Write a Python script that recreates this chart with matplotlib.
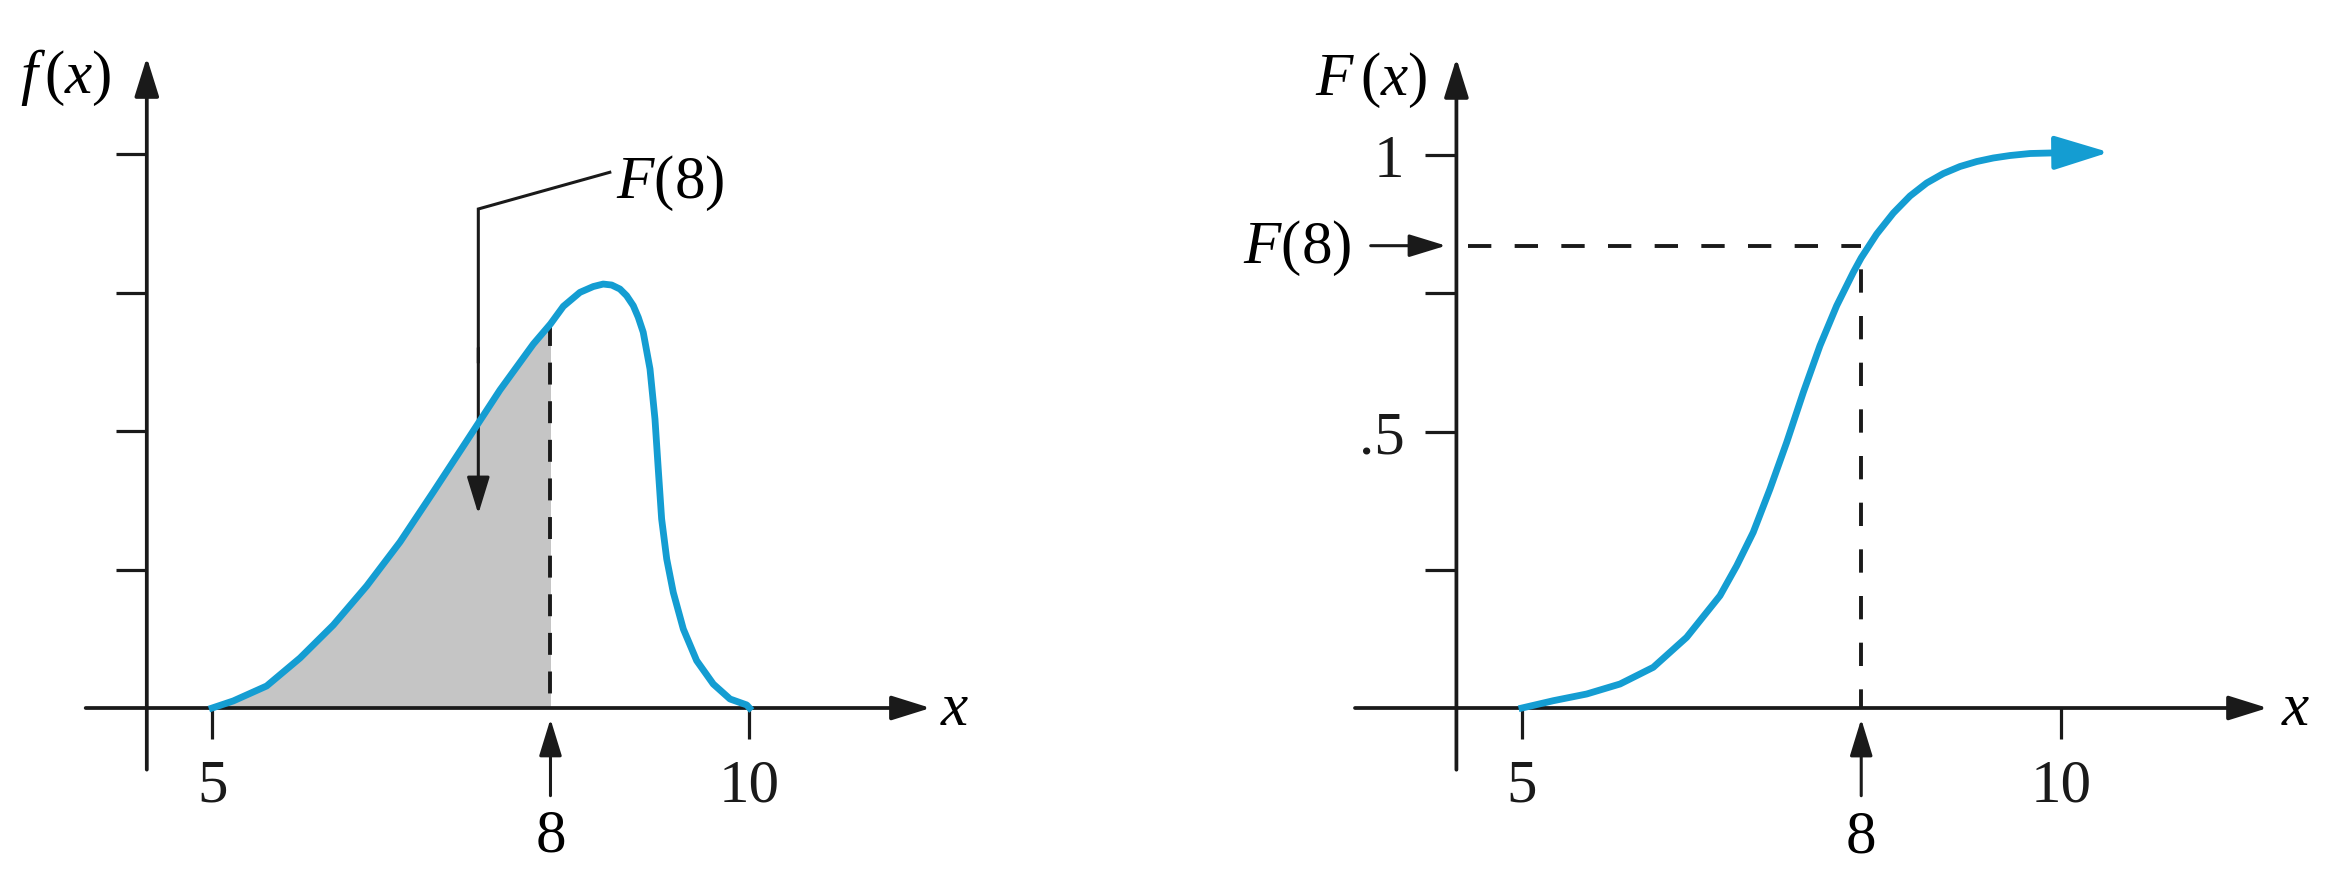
import numpy as np
import matplotlib
matplotlib.use('Agg')
import matplotlib.pyplot as plt

# density f(x)
pdf_x = [5.0, 5.187, 5.483, 5.779, 6.074, 6.370, 6.666, 6.961, 7.257, 7.552, 7.848, 8.0,
         8.129, 8.296, 8.430, 8.530, 8.615, 8.698, 8.765, 8.832, 8.882, 8.932, 9.000, 9.050,
         9.083, 9.117, 9.168, 9.234, 9.335, 9.469, 9.636, 9.804, 9.972, 10.0]
pdf_y = [0.0, 0.0051, 0.0159, 0.0361, 0.0599, 0.0881, 0.1199, 0.1560, 0.1928, 0.2296, 0.2628, 0.2773,
         0.2900, 0.3001, 0.3043, 0.3061, 0.3054, 0.3025, 0.2977, 0.2905, 0.2821, 0.2713, 0.2448, 0.2087,
         0.1726, 0.1365, 0.1076, 0.0835, 0.0570, 0.0342, 0.0173, 0.0065, 0.0022, 0.0]

# distribution function F(x) (last point = arrow tip)
cdf_x = [5.0, 5.277, 5.572, 5.867, 6.161, 6.456, 6.751, 6.899, 7.045, 7.193, 7.341, 7.488,
         7.635, 7.783, 7.930, 8.0, 8.155, 8.322, 8.489, 8.656, 8.823, 8.990, 9.158, 9.324,
         9.492, 9.692, 9.973, 10.484]
cdf_y = [0.0, 0.0132, 0.0253, 0.0434, 0.0736, 0.1278, 0.2031, 0.2573, 0.3177, 0.3960, 0.4805, 0.5709,
         0.6551, 0.7275, 0.7879, 0.8141, 0.8571, 0.8951, 0.9259, 0.9494, 0.9665, 0.9792, 0.9882, 0.9946,
         0.9991, 1.0027, 1.0040, 1.0049]
F8 = 0.836
marked_x = 8

x_ticks = [5, 10]
x_tick_labels = ['5', '10']
pdf_y_ticks = [0.1, 0.2, 0.3, 0.4]
cdf_y_ticks = [0.25, 0.5, 0.75, 1.0]
cdf_y_tick_labels = ['', '.5', '', '1']

INK = '#1a1a1a'
BLUE = '#149dd2'
GRAY = '#c5c5c5'
Y_AXIS_AT = 4.42

# the drawing is not to a linear scale (8 sits a bit to the right),
# so use a piecewise linear x scale
X_KNOTS = [0, 5, 8, 10, 20]
U_KNOTS = [-0.2467, 5, 8.148, 10, 19.26]


def fwd(v):
    return np.interp(v, X_KNOTS, U_KNOTS)


def inv(u):
    return np.interp(u, U_KNOTS, X_KNOTS)


plt.rcParams['font.family'] = 'Liberation Serif'
plt.rcParams['mathtext.fontset'] = 'custom'
plt.rcParams['mathtext.rm'] = 'Liberation Serif'
plt.rcParams['mathtext.it'] = 'Liberation Serif:italic'
plt.rcParams['font.size'] = 44
plt.rcParams['lines.scale_dashes'] = False


def arrow(ax, start, end, color=INK, lw=2.7, length=24, width=7.5, z=3):
    style = '-|>,head_length=%g,head_width=%g' % (length, width)
    ax.annotate('', xy=end, xytext=start, annotation_clip=False, zorder=z,
                arrowprops=dict(arrowstyle=style, mutation_scale=1, lw=lw,
                                color=color, shrinkA=0, shrinkB=0))


def setup(ax, px5, px10, px_left, px_right, px_per_unit):
    '''
    Place the axes so that x=5, x=10 and y=0 fall on the given pixels
    '''
    ax.set_xscale('function', functions=(fwd, inv))
    step = (px10 - px5) / 5.0
    ax.set_xlim(inv(5 + (px_left - px5) / step), inv(5 + (px_right - px5) / step))
    ax.set_ylim((709 - 878) / px_per_unit, 709 / px_per_unit)
    for s in ax.spines.values():
        s.set_visible(False)
    ax.spines['left'].set_position(('data', Y_AXIS_AT))
    ax.spines['bottom'].set_position(('data', 0))
    ax.tick_params(direction='out', length=22.3, width=2.3, color=INK, labelcolor=INK)
    ax.tick_params(axis='x', pad=14)
    ax.tick_params(axis='y', pad=15)
    ax.set_xticks(x_ticks, x_tick_labels)
    ax.set_facecolor('none')


fig = plt.figure(figsize=(23.42, 8.78), dpi=100)

# left panel: f(x)
ax = fig.add_axes([0, 0, 0.5, 1])
setup(ax, 212.2, 749.5, 0, 1171, 1385.0)
ax.set_yticks(pdf_y_ticks)
ax.tick_params(axis='y', labelleft=False)

i8 = pdf_x.index(marked_x)
ax.fill_between(pdf_x[:i8 + 1], pdf_y[:i8 + 1], color=GRAY, lw=0, zorder=1)
ax.plot([marked_x, marked_x], [pdf_y[i8], 0], color=INK, lw=2.8,
        linestyle=(0, (15.8, 12)), zorder=2)
ax.plot(pdf_x, pdf_y, color=BLUE, lw=4.9, solid_joinstyle='round', zorder=5)

arrow(ax, (3.878, 0), (11.820, 0))
arrow(ax, (Y_AXIS_AT, -0.0445), (Y_AXIS_AT, 0.4698))
ax.text(3.700, 0.4446, r'$f\,(x)$', ha='center', va='baseline')
ax.text(12.065, -0.01155, r'$x$', ha='center', va='baseline')

# the 8 marker
arrow(ax, (marked_x, -0.0633), (marked_x, -0.0079), lw=2.2, length=22.8, width=7.0)
ax.text(marked_x, -0.1032, '8', ha='center', va='baseline')

# F(8) callout
ax.plot([8.596, 7.36, 7.36], [0.3868, 0.3603, 0.25], color=INK, lw=2.2,
        solid_joinstyle='miter', zorder=4)
arrow(ax, (7.36, 0.26), (7.36, 0.1401), lw=2.2, length=22.8, width=7.0, z=4)
ax.text(9.201, 0.3687, r'$F(8)$', ha='center', va='baseline')

# right panel: F(x)
ax2 = fig.add_axes([0.5, 0, 0.5, 1])
setup(ax2, 1522.0, 2060.8, 1171, 2342, 553.0)
ax2.set_yticks(cdf_y_ticks, cdf_y_tick_labels)

ax2.plot([4.5225, marked_x], [F8, F8], color=INK, lw=2.8,
         linestyle=(0, (16.8, 16.8)), zorder=2)
ax2.plot([marked_x, marked_x], [F8, 0], color=INK, lw=2.8,
         linestyle=(16.8, (16.8, 16.8)), zorder=2)
ax2.plot(cdf_x[:-1], cdf_y[:-1], color=BLUE, lw=4.9, solid_joinstyle='round', zorder=5)
arrow(ax2, (cdf_x[-2], cdf_y[-2]), (cdf_x[-1], cdf_y[-1]), color=BLUE, lw=3.5,
      length=34, width=10.5, z=5)

arrow(ax2, (3.523, 0), (12.073, 0))
arrow(ax2, (Y_AXIS_AT, -0.1116), (Y_AXIS_AT, 1.1749))
ax2.text(3.663, 1.1103, r'$F\,(x)$', ha='center', va='baseline')
ax2.text(12.357, -0.0289, r'$x$', ha='center', va='baseline')

arrow(ax2, (marked_x, -0.1586), (marked_x, -0.0199), lw=2.2, length=22.8, width=7.0)
ax2.text(marked_x, -0.2586, '8', ha='center', va='baseline')

arrow(ax2, (3.662, F8), (4.328, F8), lw=2.2, length=22.8, width=7.0)
ax2.text(3.012, 0.806, r'$F(8)$', ha='center', va='baseline')

fig.savefig('out.png', dpi=100, facecolor='white')
plt.close(fig)
